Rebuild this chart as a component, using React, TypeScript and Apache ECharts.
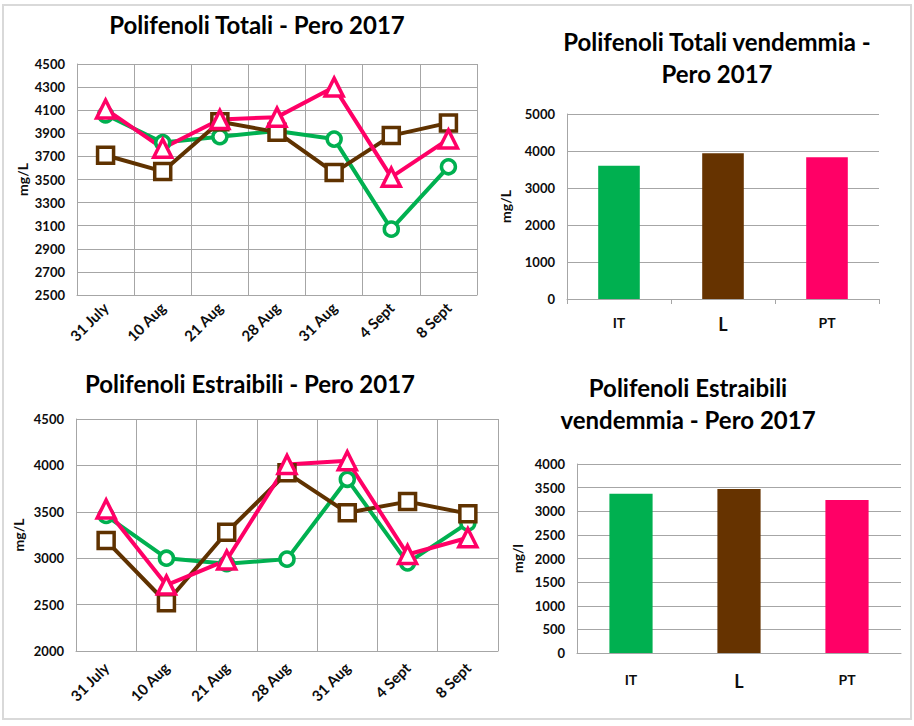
import React, { useEffect, useRef } from 'react';
import * as echarts from 'echarts';

const dates = ['31 July', '10 Aug', '21 Aug', '28 Aug', '31 Aug', '4 Sept', '8 Sept'];
const totIT = [4060, 3820, 3870, 3920, 3850, 3070, 3610];
const totL = [3710, 3570, 4000, 3910, 3560, 3880, 3990];
const totPT = [4110, 3770, 4020, 4040, 4300, 3520, 3850];
const estIT = [3460, 3000, 2940, 2990, 3850, 2950, 3380];
const estL = [3190, 2520, 3280, 3920, 3490, 3610, 3480];
const estPT = [3530, 2710, 2980, 4010, 4050, 3040, 3220];
const varieties = ['IT', 'L', 'PT'];
const harvestTot = [3600, 3940, 3830];
const harvestEst = [3370, 3470, 3240];

const GREEN = '#00b050';
const BROWN = '#5f3200';
const PINK = '#ff0066';
const BAR_BROWN = '#663300';
const GRIDC = '#a6a6a6';
const FONT = "Lato, 'Liberation Sans', sans-serif";
const TXT = '#0d0d0d';

function lineSeries(data: number[], idx: number, color: string, symbol: string, size: number) {
  return {
    type: 'line',
    xAxisIndex: idx,
    yAxisIndex: idx,
    data,
    symbol,
    symbolSize: size,
    lineStyle: { color, width: 4 },
    itemStyle: { color: '#fff', borderColor: color, borderWidth: 3.5 },
  };
}

function catAxisLine(idx: number, margin: number) {
  return {
    type: 'category',
    gridIndex: idx,
    data: dates,
    boundaryGap: true,
    axisLine: { show: true, lineStyle: { color: GRIDC, width: 1 } },
    axisTick: { show: false },
    splitLine: { show: true, lineStyle: { color: GRIDC, width: 1 } },
    axisLabel: { rotate: 45, margin, fontSize: 15, fontWeight: 'bold', fontFamily: FONT, color: TXT, interval: 0 },
  };
}

function valAxis(idx: number, min: number, max: number, interval: number, name: string, gap: number) {
  return {
    type: 'value',
    gridIndex: idx,
    min,
    max,
    interval,
    name,
    nameLocation: 'middle',
    nameRotate: 90,
    nameGap: gap,
    nameTextStyle: { fontSize: 14, fontWeight: 'bold', fontFamily: FONT, color: TXT },
    axisLine: { show: true, lineStyle: { color: GRIDC, width: 1 } },
    axisTick: { show: false },
    splitLine: { show: true, lineStyle: { color: GRIDC, width: 1 } },
    axisLabel: {
      margin: 12,
      fontSize: 13,
      fontWeight: 'bold',
      fontFamily: FONT,
      color: TXT,
      formatter: (v: number) => String(v),
    },
  };
}

function barCatAxis(idx: number, margin: number, ticks: boolean) {
  return {
    type: 'category',
    gridIndex: idx,
    data: varieties.map((v) => (v === 'L' ? { value: v, textStyle: { fontSize: 18 } } : v)),
    axisLine: { show: true, lineStyle: { color: GRIDC, width: 1 } },
    axisTick: { show: ticks, length: 5, lineStyle: { color: GRIDC } },
    axisLabel: { margin, fontSize: 14, fontWeight: 'bold', fontFamily: FONT, color: TXT },
  };
}

const titleStyle = { fontSize: 24, fontWeight: 'bold', fontFamily: FONT, color: '#000', lineHeight: 32 };

const option = {
  animation: false,
  backgroundColor: '#fff',
  title: [
    { text: 'Polifenoli Totali - Pero 2017', left: 252, top: 3, textAlign: 'center', textStyle: titleStyle },
    { text: 'Polifenoli Totali vendemmia -\nPero 2017', left: 712, top: 20, textAlign: 'center', textStyle: titleStyle },
    { text: 'Polifenoli Estraibili - Pero 2017', left: 245, top: 362, textAlign: 'center', textStyle: titleStyle },
    { text: 'Polifenoli Estraibili\nvendemmia - Pero 2017', left: 683, top: 366, textAlign: 'center', textStyle: titleStyle },
  ],
  graphic: [
    {
      type: 'rect',
      shape: { x: 3, y: 5, width: 908, height: 714 },
      style: { fill: 'none', stroke: '#d9d9d9', lineWidth: 2 },
      silent: true,
    },
  ],
  grid: [
    { left: 77, top: 64, width: 400, height: 231 },
    { left: 567, top: 114, width: 312, height: 185 },
    { left: 76, top: 419, width: 422, height: 232 },
    { left: 577, top: 464, width: 324, height: 189 },
  ],
  xAxis: [
    catAxisLine(0, 10),
    barCatAxis(1, 16, true),
    catAxisLine(2, 14),
    barCatAxis(3, 19, false),
  ],
  yAxis: [
    valAxis(0, 2500, 4500, 200, 'mg/L', 48),
    valAxis(1, 0, 5000, 1000, 'mg/L', 55),
    valAxis(2, 2000, 4500, 500, 'mg/L', 51),
    valAxis(3, 0, 4000, 500, 'mg/l', 53),
  ],
  series: [
    lineSeries(totIT, 0, GREEN, 'circle', 14),
    lineSeries(totL, 0, BROWN, 'rect', 16),
    lineSeries(totPT, 0, PINK, 'triangle', 18),
    lineSeries(estIT, 2, GREEN, 'circle', 14),
    lineSeries(estL, 2, BROWN, 'rect', 16),
    lineSeries(estPT, 2, PINK, 'triangle', 18),
    {
      type: 'bar',
      xAxisIndex: 1,
      yAxisIndex: 1,
      barWidth: '40%',
      data: harvestTot.map((v, i) => ({ value: v, itemStyle: { color: [GREEN, BAR_BROWN, PINK][i] } })),
    },
    {
      type: 'bar',
      xAxisIndex: 3,
      yAxisIndex: 3,
      barWidth: '40%',
      data: harvestEst.map((v, i) => ({ value: v, itemStyle: { color: [GREEN, BAR_BROWN, PINK][i] } })),
    },
  ],
};

export default function App() {
  const ref = useRef<HTMLDivElement>(null);
  useEffect(() => {
    const chart = echarts.init(ref.current!, null, { renderer: 'svg' });
    chart.setOption(option as any);
    return () => chart.dispose();
  }, []);
  return (
    <div
      ref={ref}
      style={{ position: 'absolute', left: 0, top: 0, width: 914, height: 726, background: '#fff' }}
    />
  );
}
